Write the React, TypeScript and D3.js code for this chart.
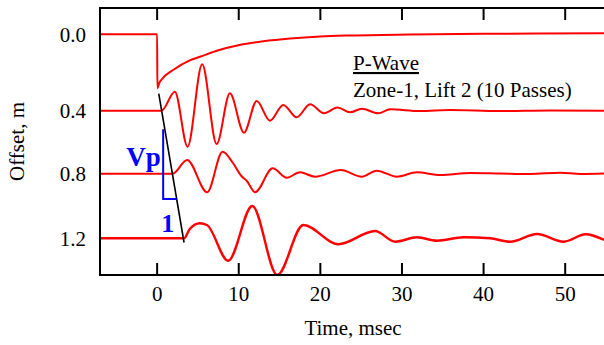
import React from "react";
import * as d3 from "d3";

// ---- data ----
const offsets = [0.0, 0.4, 0.8, 1.2];
const yTickLabels = ["0.0", "0.4", "0.8", "1.2"];
const xTicks = [0, 10, 20, 30, 40, 50];

// trace at 0.0 m (time in msec, amplitude in relative units, + = up)
const t0Time = [-7, 0, 0.03, 0.25, 0.6, 1.96, 4.0, 5.24, 7.5, 10.1, 13, 16.3, 20, 23.6, 30.9, 40, 54.8];
const t0Amp = [0, 0, -5.4, -4.9, -4.47, -3.57, -2.6, -2.25, -1.6, -1.07, -0.7, -0.42, -0.22, -0.12, -0.02, 0.05, 0.1];

// trace at 0.4 m
const t1Time = [-7, 0.54, 2.17, 3.73, 5.52, 7.29, 8.92, 10.64, 12.2, 13.83, 15.46, 17.1, 18.74, 20.45, 22.1, 23.64, 25.08, 27.08, 28.55, 32.2, 35.9, 42, 48.1, 54.8];
const t1Amp = [0, 0, 1.9, -3.6, 4.64, -3.33, 1.74, -2.2, 0.97, -1.0, 0.57, -0.66, 0.64, -0.26, 0.32, -0.16, 0.2, -0.26, 0.14, -0.03, 0.07, -0.03, 0.02, 0];

// trace at 0.8 m
const t2Time = [-7, 1.89, 3.68, 6.13, 8.02, 9.29, 10.27, 11.0, 12.0, 14.16, 15.88, 17.5, 19.35, 22.5, 25.08, 26.9, 29.37, 31.83, 34.69, 38.4, 42.0, 45.7, 49.4, 51.9, 54.8];
const t2Amp = [0, 0, 1.37, -1.86, 2.2, 1.07, -0.18, -0.73, -1.86, 0.54, -0.4, 0.14, -0.3, 0.37, -0.3, 0.3, -0.3, 0.14, -0.13, 0.07, 0.02, -0.03, 0.1, -0.03, 0.02];

// trace at 1.2 m
const t3Time = [-7, 3.31, 4.0, 5.24, 6.1, 8.71, 11.66, 14.72, 17.91, 22.2, 26.7, 29.17, 31.83, 34.28, 37.55, 40.8, 43.27, 46.55, 49.82, 52.48, 54.8];
const t3Amp = [0, 0, 0.93, 1.5, 1.33, -2.24, 3.23, -3.67, 1.33, -0.6, 0.73, -0.34, 0.1, -0.24, 0.1, 0, -0.34, 0.43, -0.34, 0.4, -0.17];

// first-arrival line (time, offset)
const arrivalTime = [0.2, 3.3];
const arrivalOffset = [0.31, 1.226];

// slope triangle (time, offset)
const triTime = [0.74, 0.74, 2.39];
const triOffset = [0.518, 0.957, 0.957];

const W = 604;
const H = 345;
const left = 100;
const right = 606;
const top = 8;
const bottom = 275;
const font = "'Liberation Serif', 'Times New Roman', serif";
const red = "#ff0000";
const blue = "#0000ff";

export default function App() {
  const x = d3.scaleLinear().domain([-7, 55]).range([left, right]);
  const y = d3.scaleLinear().domain(offsets).range([34.3, 110.7, 173.7, 238.3]);
  const amp = d3.scaleLinear().domain([0, 1]).range([0, -10]);

  const traces = [
    { off: offsets[0], t: t0Time, a: t0Amp },
    { off: offsets[1], t: t1Time, a: t1Amp },
    { off: offsets[2], t: t2Time, a: t2Amp },
    { off: offsets[3], t: t3Time, a: t3Amp },
  ];

  const line = d3
    .line<[number, number]>()
    .x((d) => d[0])
    .y((d) => d[1])
    .curve(d3.curveMonotoneX);

  const straight = d3
    .line<[number, number]>()
    .x((d) => d[0])
    .y((d) => d[1]);

  const arrival: [number, number][] = arrivalTime.map((t, i) => [x(t), y(arrivalOffset[i])]);
  const tri: [number, number][] = triTime.map((t, i) => [x(t), y(triOffset[i])]);

  return (
    <svg
      width={W}
      height={H}
      style={{ position: "absolute", left: 0, top: 0, background: "#fff" }}
      fontFamily={font}
    >
      <defs>
        <clipPath id="plot">
          <rect x={left} y={top} width={right - left} height={bottom - top} />
        </clipPath>
      </defs>
      {/* traces */}
      <g clipPath="url(#plot)">
        {traces.map((tr, i) => (
          <path
            key={i}
            d={line(tr.t.map((t, j) => [x(t), y(tr.off) + amp(tr.a[j])]))!}
            fill="none"
            stroke={red}
            strokeWidth={i === 3 ? 2.4 : 2}
            strokeLinejoin="round"
          />
        ))}
      </g>
      {/* arrival line */}
      <path d={straight(arrival)!} stroke="#000" strokeWidth={1.6} fill="none" />
      {/* slope triangle */}
      <path d={straight(tri)!} stroke={blue} strokeWidth={2} fill="none" />
      <text x={x(0.45)} y={y(0.749)} textAnchor="end" fontSize={27} fontWeight="bold" fill={blue}>
        Vp
      </text>
      <text x={x(1.3)} y={y(1.163)} textAnchor="middle" fontSize={26} fontWeight="bold" fill={blue}>
        1
      </text>

      {/* frame */}
      <rect x={left} y={top} width={right - left} height={bottom - top} fill="none" stroke="#000" strokeWidth={2} />
      {xTicks.map((t) => (
        <g key={t}>
          <line x1={x(t)} x2={x(t)} y1={top} y2={top + 12} stroke="#000" strokeWidth={2} />
          <line x1={x(t)} x2={x(t)} y1={bottom} y2={bottom - 12} stroke="#000" strokeWidth={2} />
          <text x={x(t)} y={301} textAnchor="middle" fontSize={21}>
            {t}
          </text>
        </g>
      ))}
      {offsets.map((o, i) => (
        <text key={o} x={86} y={y(o)} dy="0.35em" textAnchor="end" fontSize={21}>
          {yTickLabels[i]}
        </text>
      ))}
      <text x={(left + right) / 2} y={335} textAnchor="middle" fontSize={21}>
        Time, msec
      </text>
      <text transform={`translate(24,${(top + bottom) / 2}) rotate(-90)`} textAnchor="middle" fontSize={21}>
        Offset, m
      </text>

      {/* annotation */}
      <text x={353} y={70} fontSize={21} textDecoration="underline">
        P-Wave
      </text>
      <text x={353} y={97.3} fontSize={21}>
        Zone-1, Lift 2 (10 Passes)
      </text>
    </svg>
  );
}
